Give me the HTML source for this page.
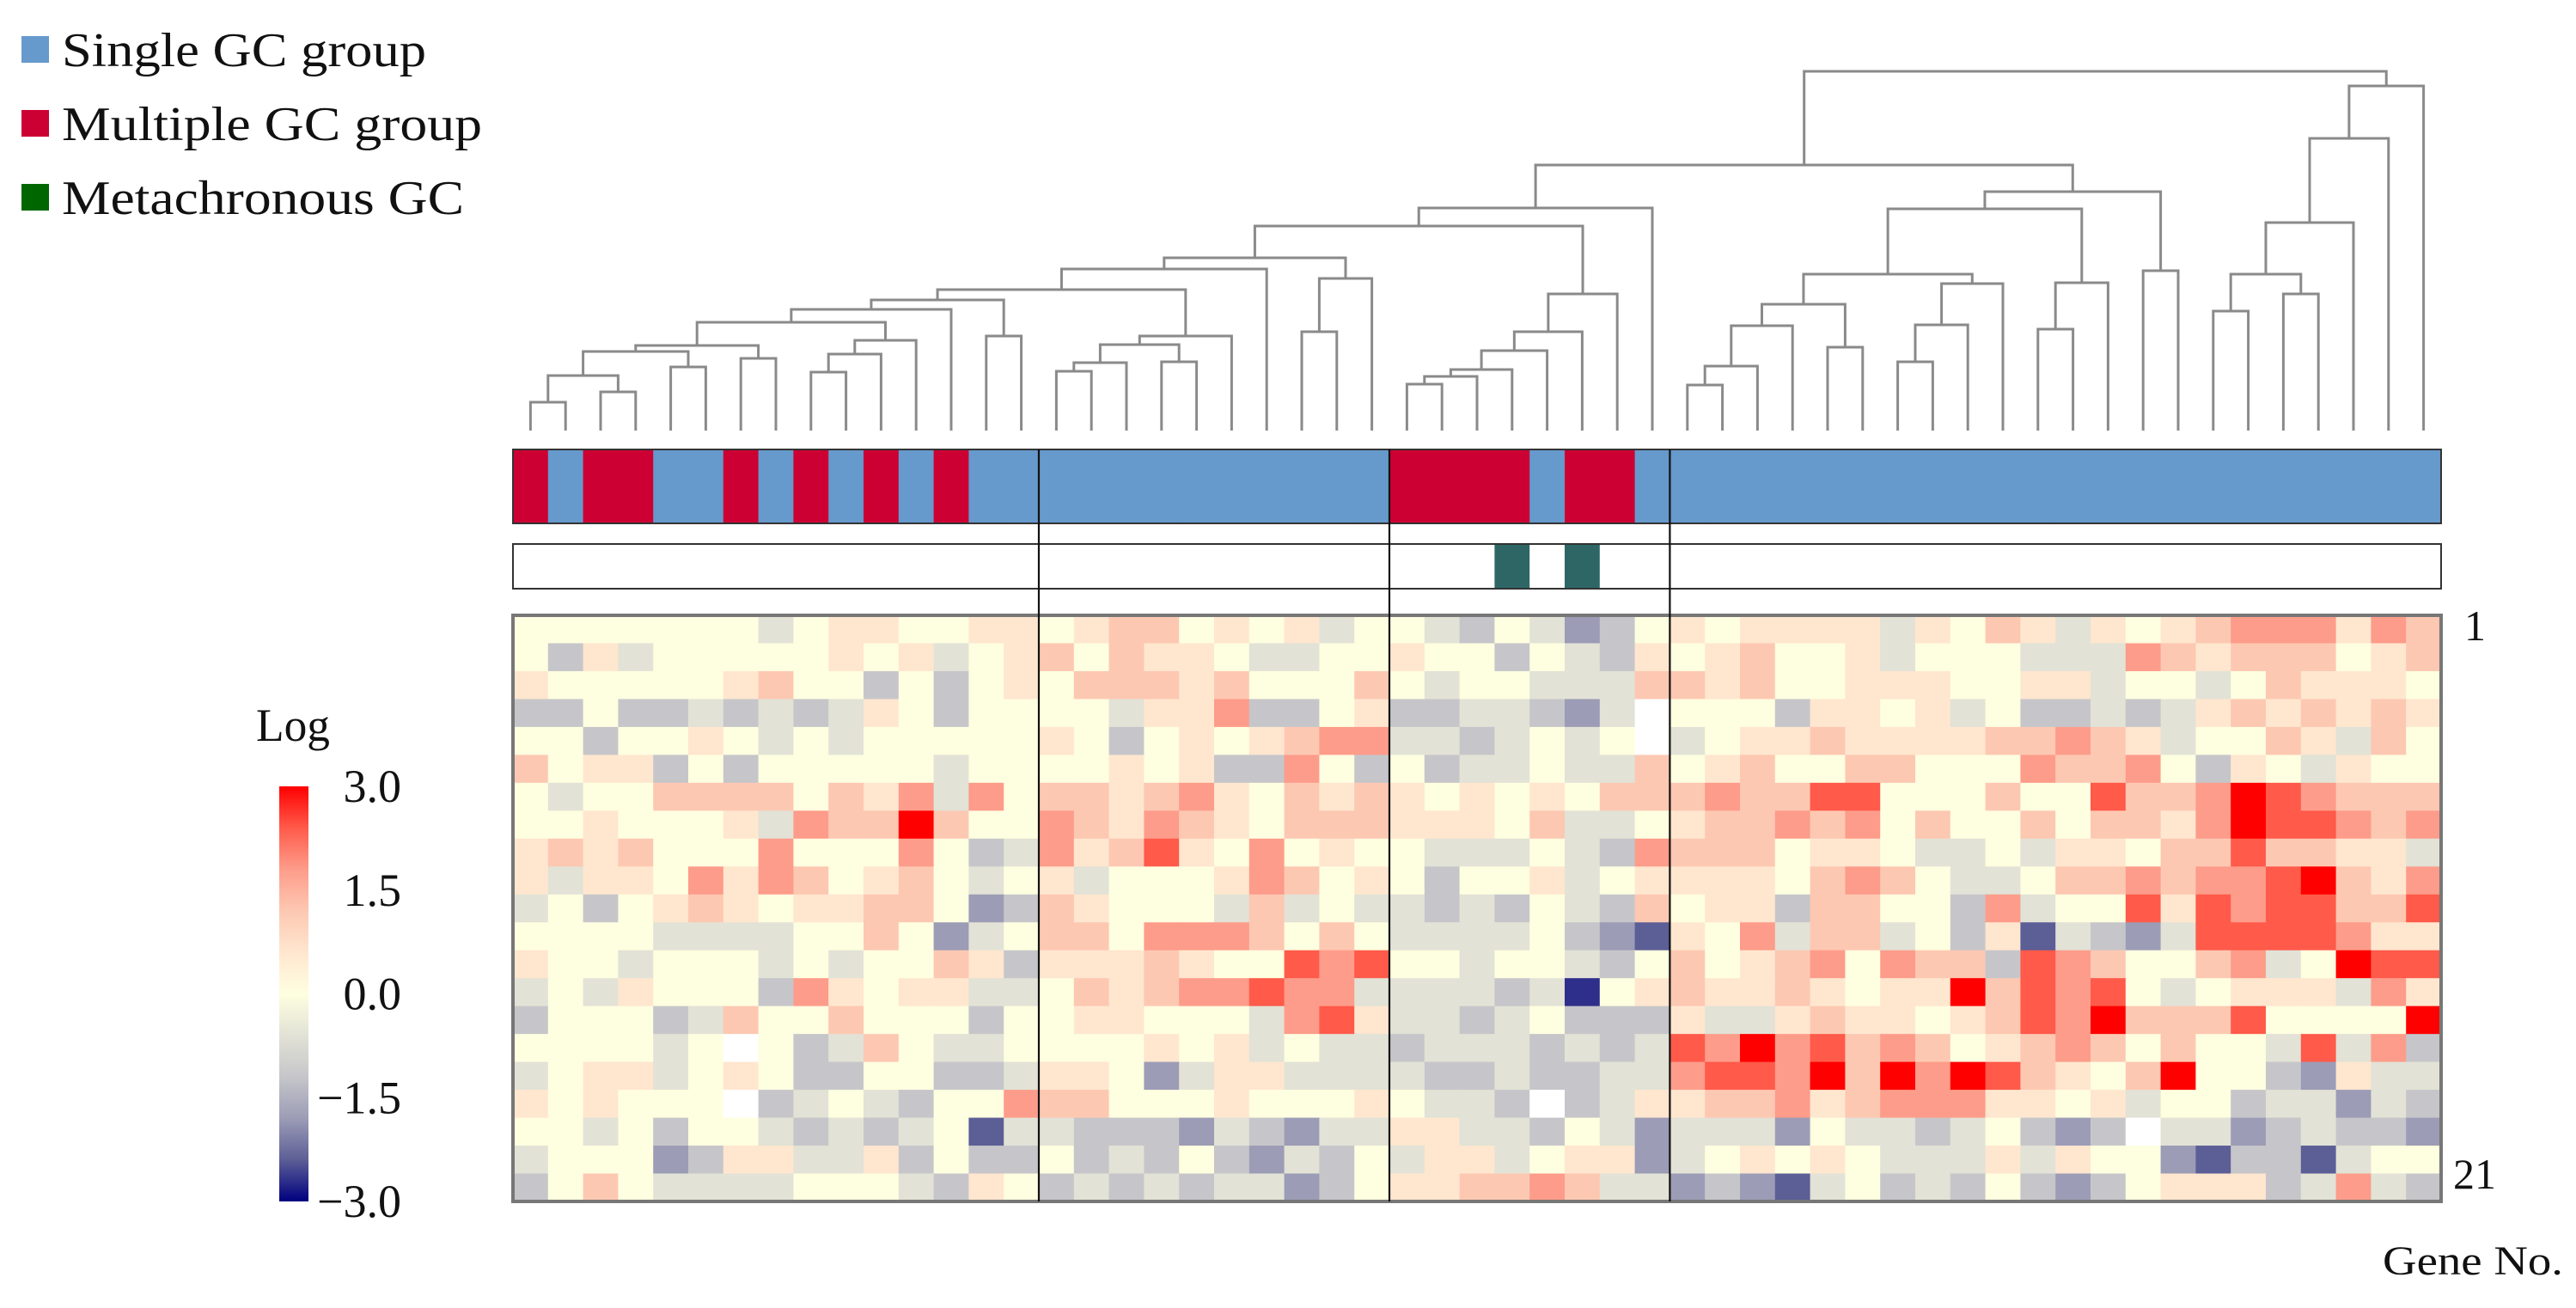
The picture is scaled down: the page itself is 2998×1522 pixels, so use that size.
<!DOCTYPE html>
<html><head><meta charset="utf-8"><style>
html,body{margin:0;padding:0;background:#fff;}
svg{display:block;font-family:"Liberation Serif",serif;}
</style></head><body>
<svg id="chart" width="2998" height="1522" viewBox="0 0 2998 1522" xmlns="http://www.w3.org/2000/svg">
<defs>
<linearGradient id="cbgrad" x1="0" y1="0" x2="0" y2="1">
<stop offset="0" stop-color="#ff0000"/><stop offset="0.1" stop-color="#ff5a4a"/><stop offset="0.2" stop-color="#fd9c8a"/><stop offset="0.3" stop-color="#fdc8b2"/><stop offset="0.4" stop-color="#ffe6cf"/><stop offset="0.5" stop-color="#fefee0"/><stop offset="0.6" stop-color="#e2e2d6"/><stop offset="0.7" stop-color="#c6c6ca"/><stop offset="0.8" stop-color="#9c9cb6"/><stop offset="0.9" stop-color="#5c5e96"/><stop offset="1" stop-color="#00007f"/>
</linearGradient>
</defs>
<g>
<rect x="25" y="42" width="32" height="31" fill="#6699cc"/>
<text x="72" y="77" font-size="56" textLength="424" lengthAdjust="spacingAndGlyphs" fill="#111">Single GC group</text>
<rect x="25" y="128" width="32" height="31" fill="#cc0033"/>
<text x="72" y="163" font-size="56" textLength="489" lengthAdjust="spacingAndGlyphs" fill="#111">Multiple GC group</text>
<rect x="25" y="214" width="32" height="31" fill="#006600"/>
<text x="72" y="249" font-size="56" textLength="468" lengthAdjust="spacingAndGlyphs" fill="#111">Metachronous GC</text>
</g>
<g>
<text x="298" y="862" font-size="54" textLength="86" lengthAdjust="spacingAndGlyphs" fill="#111">Log</text>
<rect x="325" y="915" width="34" height="483" fill="url(#cbgrad)"/>
</g>
<g id="cbticks"></g>
<g id="dendro"></g>
<g id="groups"></g>
<g id="meta"></g>
<g id="heat"></g>
<g id="dividers"></g>
<text x="2868" y="745" font-size="50" fill="#111">1</text>
<text x="2855" y="1383" font-size="50" textLength="50" lengthAdjust="spacingAndGlyphs" fill="#111">21</text>
<text x="2773" y="1483" font-size="48" textLength="210" lengthAdjust="spacingAndGlyphs" fill="#111">Gene No.</text>
</svg>
<script>
const heatValues = [
[0,0,0,0,0,0,0,-0.6,0,0.6,0.6,0,0,0.6,0.6,0,0.6,1.2,1.2,0,0.6,0,0.6,-0.6,0,0,-0.6,-1.2,0,-0.6,-1.8,-1.2,0,0.6,0,0.6,0.6,0.6,0.6,-0.6,0.6,0,1.2,0.6,-0.6,0.6,0,0.6,1.2,1.8,1.8,1.8,0.6,1.8,1.2],
[0,-1.2,0.6,-0.6,0,0,0,0,0,0.6,0,0.6,-0.6,0,0.6,1.2,0,1.2,0.6,0.6,0,-0.6,-0.6,0,0,0.6,0,0,-1.2,0,-0.6,-1.2,0.6,0,0.6,1.2,0,0,0.6,-0.6,0,0,0,-0.6,-0.6,-0.6,1.8,1.2,0.6,1.2,1.2,1.2,0,0.6,1.2],
[0.6,0,0,0,0,0,0.6,1.2,0,0,-1.2,0,-1.2,0,0.6,0,1.2,1.2,1.2,0.6,1.2,0,0,0,1.2,0,-0.6,0,0,-0.6,-0.6,-0.6,1.2,1.2,0.6,1.2,0,0,0.6,0.6,0.6,0,0,0.6,0.6,-0.6,0,0,-0.6,0,1.2,0.6,0.6,0.6,0],
[-1.2,-1.2,0,-1.2,-1.2,-0.6,-1.2,-0.6,-1.2,-0.6,0.6,0,-1.2,0,0,0,0,-0.6,0.6,0.6,1.8,-1.2,-1.2,0,0.6,-1.2,-1.2,-0.6,-0.6,-1.2,-1.8,-0.6,null,0,0,0,-1.2,0.6,0.6,0,0.6,-0.6,0,-1.2,-1.2,-0.6,-1.2,-0.6,0.6,1.2,0.6,1.2,0.6,1.2,0.6],
[0,0,-1.2,0,0,0.6,0,-0.6,0,-0.6,0,0,0,0,0,0.6,0,-1.2,0,0.6,0,0.6,1.2,1.8,1.8,-0.6,-0.6,-1.2,-0.6,0,-0.6,0,null,-0.6,0,0.6,0.6,1.2,0.6,0.6,0.6,0.6,1.2,1.2,1.8,1.2,0.6,-0.6,0,0,1.2,0.6,-0.6,1.2,0],
[1.2,0,0.6,0.6,-1.2,0,-1.2,0,0,0,0,0,-0.6,0,0,0,0,0.6,0,0.6,-1.2,-1.2,1.8,0,-1.2,0,-1.2,-0.6,-0.6,0,-0.6,-0.6,1.2,0,0.6,1.2,0,0,1.2,1.2,0,0,0,1.8,1.2,1.2,1.8,0,-1.2,0.6,0,-0.6,0.6,0,0],
[0,-0.6,0,0,1.2,1.2,1.2,1.2,0,1.2,0.6,1.8,-0.6,1.8,0,1.2,1.2,0.6,1.2,1.8,0.6,0,1.2,0.6,1.2,0.6,0,0.6,0,0.6,0,1.2,1.2,1.2,1.8,1.2,1.2,2.4,2.4,0,0,0,1.2,0,0,2.4,1.2,1.2,1.8,3,2.4,1.8,1.2,1.2,1.2],
[0,0,0.6,0,0,0,0.6,-0.6,1.8,1.2,1.2,3,1.2,0,0,1.8,1.2,0.6,1.8,1.2,0.6,0,1.2,1.2,1.2,0.6,0.6,0.6,0,1.2,-0.6,-0.6,0,0.6,1.2,1.2,1.8,1.2,1.8,0,1.2,0,0,1.2,0,1.2,1.2,0.6,1.8,3,2.4,2.4,1.8,1.2,1.8],
[0.6,1.2,0.6,1.2,0,0,0,1.8,0,0,0,1.8,0,-1.2,-0.6,1.8,0.6,1.2,2.4,0.6,0,1.8,0,0.6,0,0,-0.6,-0.6,-0.6,0,-0.6,-1.2,1.8,1.2,1.2,1.2,0,0.6,0.6,0,-0.6,-0.6,0,-0.6,0.6,0.6,0,1.2,1.2,2.4,1.2,1.2,0.6,0.6,-0.6],
[0.6,-0.6,0.6,0.6,0,1.8,0.6,1.8,1.2,0,0.6,1.2,0,-0.6,0,0.6,-0.6,0,0,0,0.6,1.8,1.2,0,0.6,0,-1.2,0,0,0.6,-0.6,0,0.6,0.6,0.6,0.6,0,1.2,1.8,1.2,0,-0.6,-0.6,0,1.2,1.2,1.8,1.2,1.8,1.8,2.4,3,1.2,0.6,1.8],
[-0.6,0,-1.2,0,0.6,1.2,0.6,0,0.6,0.6,1.2,1.2,0,-1.8,-1.2,1.2,0.6,0,0,0,-0.6,1.2,-0.6,0,-0.6,-0.6,-1.2,-0.6,-1.2,0,-0.6,-1.2,1.2,0,0.6,0.6,-1.2,1.2,1.2,0,0,-1.2,1.8,-0.6,0,0,2.4,0.6,2.4,1.8,2.4,2.4,1.2,1.2,2.4],
[0,0,0,0,-0.6,-0.6,-0.6,-0.6,0,0,1.2,0,-1.8,-0.6,0,1.2,1.2,0,1.8,1.8,1.8,1.2,0,1.2,0,-0.6,-0.6,-0.6,-0.6,0,-1.2,-1.8,-2.4,0.6,0,1.8,-0.6,1.2,1.2,-0.6,0,-1.2,0.6,-2.4,-0.6,-1.2,-1.8,-0.6,2.4,2.4,2.4,2.4,1.8,0.6,0.6],
[0.6,0,0,-0.6,0,0,0,-0.6,0,-0.6,0,0,1.2,0.6,-1.2,0.6,0.6,0.6,1.2,0.6,0,0,2.4,1.8,2.4,0,0,-0.6,0,0,-0.6,-1.2,0,1.2,0,0.6,1.2,1.8,0,1.8,1.2,1.2,-1.2,2.4,1.8,1.2,0,0,1.2,1.8,-0.6,0,3,2.4,2.4],
[-0.6,0,-0.6,0.6,0,0,0,-1.2,1.8,0.6,0,0.6,0.6,-0.6,-0.6,0,1.2,0.6,1.2,1.8,1.8,2.4,1.8,1.8,-0.6,-0.6,-0.6,-0.6,-1.2,-0.6,-2.7,0,0.6,1.2,0.6,0.6,1.2,0.6,0,0.6,0.6,3,1.2,2.4,1.8,2.4,0,-0.6,0,0.6,0.6,0.6,-0.6,1.8,0.6],
[-1.2,0,0,0,-1.2,-0.6,1.2,0,0,1.2,0,0,0,-1.2,0,0,0.6,0.6,0,0,0,-0.6,1.8,2.4,0.6,-0.6,-0.6,-1.2,-0.6,0,-1.2,-1.2,-1.2,0.6,-0.6,-0.6,0.6,1.2,0.6,0.6,0,0.6,1.2,2.4,1.8,3,1.2,1.2,1.2,2.4,0,0,0,0,3],
[0,0,0,0,-0.6,0,null,0,-1.2,-0.6,1.2,0,-0.6,-0.6,0,0,0,0,0.6,0,0.6,-0.6,0,-0.6,-0.6,-1.2,-0.6,-0.6,-0.6,-1.2,-0.6,-1.2,-0.6,2.4,1.8,3,1.8,2.4,1.2,1.8,1.2,0,0.6,1.2,1.8,1.2,0,1.2,0,0,-0.6,2.4,-0.6,1.8,-1.2],
[-0.6,0,0.6,0.6,-0.6,0,0.6,0,-1.2,-1.2,0,0,-1.2,-1.2,-0.6,0.6,0.6,0,-1.8,-0.6,0.6,0.6,-0.6,-0.6,-0.6,-0.6,-1.2,-1.2,-0.6,-1.2,-1.2,-0.6,-0.6,1.8,2.4,2.4,1.8,3,1.2,3,1.8,3,2.4,1.2,0.6,0,1.2,3,0,0,-1.2,-1.8,0.6,-0.6,-0.6],
[0.6,0,0.6,0,0,0,null,-1.2,-0.6,0,-0.6,-1.2,0,0,1.8,1.2,1.2,0,0,0,0.6,0,0,0,0.6,0,-0.6,-0.6,-1.2,null,-1.2,-0.6,0.6,0.6,1.2,1.2,1.8,0.6,1.2,1.8,1.8,1.8,0.6,0.6,0,0.6,-0.6,0,0,-1.2,-0.6,-0.6,-1.8,-0.6,-1.2],
[0,0,-0.6,0,-1.2,0,0,-0.6,-1.2,-0.6,-1.2,-0.6,0,-2.4,-0.6,-0.6,-1.2,-1.2,-1.2,-1.8,-0.6,-1.2,-1.8,-0.6,-0.6,0.6,0.6,-0.6,-0.6,-1.2,0,-0.6,-1.8,-0.6,-0.6,-0.6,-1.8,0,-0.6,-0.6,-1.2,-0.6,0,-1.2,-1.8,-1.2,null,-0.6,-0.6,-1.8,-1.2,-0.6,-1.2,-1.2,-1.8],
[-0.6,0,0,0,-1.8,-1.2,0.6,0.6,-0.6,-0.6,0.6,-1.2,0,-1.2,-1.2,0,-1.2,-0.6,-1.2,0,-1.2,-1.8,-0.6,-1.2,0,-0.6,0.6,0.6,-0.6,0,0.6,0.6,-1.8,-0.6,0,0.6,0,0.6,0,-0.6,-0.6,-0.6,0.6,-0.6,0.6,0,0,-1.8,-2.4,-1.2,-1.2,-2.4,-0.6,0,0],
[-1.2,0,1.2,0,-0.6,-0.6,-0.6,-0.6,0,0,0,-0.6,-1.2,0.6,0,-1.2,-0.6,-1.2,-0.6,-1.2,-0.6,-0.6,-1.8,-1.2,0,0.6,0.6,1.2,1.2,1.8,1.2,-0.6,-0.6,-1.8,-1.2,-1.8,-2.4,-0.6,0,-1.2,-0.6,-1.2,0,-1.2,-1.8,-1.2,0,0.6,0.6,0.6,-1.2,-0.6,1.8,-0.6,-1.2]
];
const sampleGroups = ["M","S","M","M","S","S","M","S","M","S","M","S","M","S","S","S","S","S","S","S","S","S","S","S","S","M","M","M","M","S","M","M","S","S","S","S","S","S","S","S","S","S","S","S","S","S","S","S","S","S","S","S","S","S","S"];
const metachronousCols = [28, 30];
const clusterBreaks = [15, 25, 33];
const mergeLeft  = [0,2,55,4,57,6,59,8,62,63,61,65,13,66,15,69,18,70,72,68,74,22,76,75,25,79,80,81,82,83,78,85,33,87,88,37,89,39,92,93,91,43,96,95,46,98,86,48,50,102,104,105,106,101];
const mergeRight = [1,3,56,5,58,7,60,9,10,11,64,12,14,67,16,17,19,71,20,73,21,23,24,77,26,27,28,29,30,31,84,32,34,35,36,38,90,40,41,42,94,44,45,97,47,99,100,49,51,103,52,53,54,107];
const mergeHeight= [33,45,64,74,92,84,99,68,89,105,126,141,110,152,69,79,80,100,110,164,188,115,177,201,54,63,71,93,115,159,238,259,53,75,122,97,147,80,123,171,182,118,172,258,186,278,309,139,159,182,242,340,401,418];
const cbTickValues = [3.0, 1.5, 0.0, -1.5, -3.0];
const cbTickLabels = ["3.0","1.5","0.0","\u22121.5","\u22123.0"];

const NS="http://www.w3.org/2000/svg";
const nCols=55, nRows=21;
const hx0=597, hx1=2841, hy0=716, hy1=1398;
const cw=(hx1-hx0)/nCols, rh=(hy1-hy0)/nRows;
function xCol(c){return hx0+c*cw;}
function yRow(r){return hy0+r*rh;}
const leafBase=501;
function yHeight(h){return leafBase-h;}
const cbTop=915, cbBot=1398;
function yCb(v){return cbTop+(3-v)/6*(cbBot-cbTop);}
const stopsV=[3,2.4,1.8,1.2,0.6,0,-0.6,-1.2,-1.8,-2.4,-3];
const stopsC=[[255,0,0],[255,90,74],[253,156,138],[253,200,178],[255,230,207],[254,254,224],[226,226,214],[198,198,202],[156,156,182],[92,94,150],[0,0,127]];
function colorOf(v){
  if(v===null) return "#ffffff";
  if(v>=3) v=3; if(v<=-3) v=-3;
  for(let i=0;i<stopsV.length-1;i++){
    if(v<=stopsV[i]&&v>=stopsV[i+1]){
      const t=(stopsV[i]-v)/(stopsV[i]-stopsV[i+1]);
      const a=stopsC[i],b=stopsC[i+1];
      return "rgb("+a.map((x,k)=>Math.round(x+(b[k]-x)*t)).join(",")+")";
    }
  }
  return "#fff";
}
function mk(tag,attrs,parent){const e=document.createElementNS(NS,tag);for(const k in attrs)e.setAttribute(k,attrs[k]);parent.appendChild(e);return e;}

const heat=document.getElementById("heat");
for(let r=0;r<nRows;r++){for(let c=0;c<nCols;c++){
  const el=mk("rect",{x:xCol(c),y:yRow(r),width:cw+0.6,height:rh+0.6,fill:colorOf(heatValues[r][c])},heat);
  
  
}}
const hb=mk("rect",{x:hx0,y:hy0,width:hx1-hx0,height:hy1-hy0,fill:"none",stroke:"#777",'stroke-width':4},heat);



const groups=document.getElementById("groups");
const gy0=523, gy1=609;
for(let c=0;c<nCols;c++){
  const el=mk("rect",{x:xCol(c),y:gy0,width:cw+0.6,height:gy1-gy0,fill:sampleGroups[c]==="M"?"#cc0033":"#6699cc"},groups);
  
  
}
const gb=mk("rect",{x:hx0,y:gy0,width:hx1-hx0,height:gy1-gy0,fill:"none",stroke:"#333",'stroke-width':2},groups);



const meta=document.getElementById("meta");
const my0=633, my1=685;
for(const c of metachronousCols){
  const el=mk("rect",{x:xCol(c),y:my0,width:cw,height:my1-my0,fill:"#2e6666"},meta);
  
  
}
const mb=mk("rect",{x:hx0,y:my0,width:hx1-hx0,height:my1-my0,fill:"none",stroke:"#333",'stroke-width':2},meta);



const div=document.getElementById("dividers");
for(const b of clusterBreaks){
  const el=mk("line",{x1:xCol(b),x2:xCol(b),y1:gy0,y2:hy1,stroke:"#111",'stroke-width':2.2},div);
  
  
}

const dendro=document.getElementById("dendro");
const nodeX=[], nodeH=[];
for(let c=0;c<nCols;c++){nodeX.push(xCol(c)+cw/2);nodeH.push(0);}
for(let i=0;i<mergeLeft.length;i++){
  const a=mergeLeft[i], b=mergeRight[i], h=mergeHeight[i];
  const xa=nodeX[a], xb=nodeX[b], yy=yHeight(h);
  const p=mk("path",{d:"M"+xa+","+yHeight(nodeH[a])+"V"+yy+"H"+xb+"V"+yHeight(nodeH[b]),fill:"none",stroke:"#8a8a8a",'stroke-width':3},dendro);
  
  
  nodeX.push((xa+xb)/2); nodeH.push(h);
}

const cbt=document.getElementById("cbticks");
for(let i=0;i<cbTickValues.length;i++){
  const t=mk("text",{x:467,y:yCb(cbTickValues[i])+18,'font-size':54,'text-anchor':'end',fill:'#111'},cbt);
  t.textContent=cbTickLabels[i];
  
  
}
</script>
</body></html>
